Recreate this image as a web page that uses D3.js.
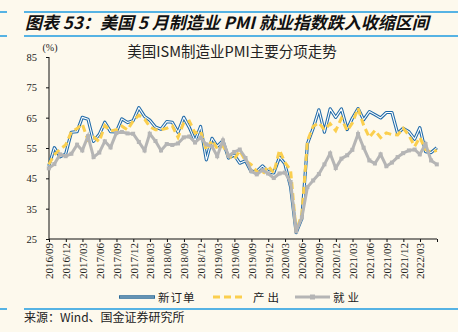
<!DOCTYPE html>
<html>
<head>
<meta charset="utf-8">
<script src="https://cdn.jsdelivr.net/npm/d3@7"></script>
<style>
  html, body { margin: 0; padding: 0; background: #fdf9ed; }
  svg { display: block; }
  .cn { font-family: "Noto Sans CJK SC", sans-serif; }
  .num { font-family: "Liberation Serif", "Times New Roman", serif; }
</style>
</head>
<body>
<div class="chart"></div>
<script>
// ISM manufacturing PMI sub-indices, monthly from 2016/08 to 2022/05
var startMonth = [2016, 8];
var newOrders = [49.1, 55.1, 52.1, 53.0, 60.2,
  60.4, 65.1, 64.5, 57.2, 59.5, 63.5, 60.4, 60.3, 64.6, 63.4, 64.0, 68.3,
  65.4, 64.2, 61.9, 61.2, 63.7, 63.5, 60.2, 65.1, 61.8, 57.4, 62.1, 51.1,
  58.2, 55.5, 57.4, 51.7, 52.7, 50.0, 50.8, 47.2, 47.3, 49.1, 47.2, 46.8,
  52.0, 49.8, 42.2, 27.1, 31.8, 56.4, 61.5, 67.6, 60.2, 67.9, 65.1, 67.9,
  61.1, 64.8, 68.0, 64.3, 67.0, 66.0, 64.9, 66.7, 66.7, 59.8, 61.5, 60.4,
  57.9, 61.7, 53.8, 53.5, 55.1];
var production = [49.6, 52.8, 54.6, 56.0, 60.3,
  61.4, 62.9, 57.6, 58.6, 57.1, 62.4, 60.6, 61.0, 62.2, 61.0, 63.9, 65.8,
  64.5, 62.0, 61.0, 61.0, 61.5, 62.3, 58.5, 63.3, 63.9, 59.9, 60.6, 54.3,
  57.5, 54.8, 55.8, 52.3, 51.3, 54.1, 50.8, 49.5, 47.3, 46.2, 49.1, 46.8,
  54.3, 50.3, 47.7, 27.5, 33.2, 57.3, 62.1, 63.3, 61.0, 63.0, 60.7, 64.8,
  60.7, 63.2, 68.1, 62.5, 58.5, 60.8, 58.4, 60.0, 59.4, 59.3, 61.5, 59.2,
  55.5, 58.5, 54.5, 53.6, 54.2];
var employment = [48.3, 49.7, 52.9, 52.3, 53.1,
  56.1, 54.2, 58.9, 52.0, 53.5, 57.2, 55.2, 59.9, 60.3, 59.8, 59.7, 57.0,
  54.2, 59.7, 57.3, 54.2, 56.3, 56.0, 56.5, 58.5, 58.8, 56.8, 58.4, 56.2,
  55.5, 52.3, 57.5, 52.4, 53.7, 54.5, 51.7, 47.4, 46.3, 47.7, 46.6, 45.1,
  46.6, 46.9, 43.8, 27.5, 32.1, 42.1, 44.3, 46.4, 49.6, 53.2, 48.4, 51.5,
  52.6, 54.4, 59.6, 55.1, 50.9, 49.9, 52.9, 49.0, 50.2, 52.0, 53.3, 54.2,
  54.5, 52.9, 56.3, 50.9, 49.6];
var tickLabels = ["2016/09", "2016/12", "2017/03", "2017/06", "2017/09", "2017/12",
  "2018/03", "2018/06", "2018/09", "2018/12", "2019/03", "2019/06", "2019/09",
  "2019/12", "2020/03", "2020/06", "2020/09", "2020/12", "2021/03", "2021/06",
  "2021/09", "2021/12", "2022/03", ""];
var yTicks = [25, 35, 45, 55, 65, 75, 85];

var width = 458, height = 332;
var plot = {left: 49, right: 437, top: 57, bottom: 239};
var blueRule = "#1e9be0", bg = "#fdf9ed";

var parseMonth = d3.timeParse("%Y/%m");
// points sit at month end, ticks at month start
var dates = newOrders.map(function(d, i) {
  return new Date(startMonth[0], startMonth[1] + i, 0);
});
var tickDates = tickLabels.map(function(d, i) {
  return d ? parseMonth(d) : d3.timeMonth.offset(parseMonth(tickLabels[i - 1]), 3);
});

var x = d3.scaleTime()
  .domain([tickDates[0], tickDates[tickDates.length - 1]])
  .range([plot.left, plot.right]);
var y = d3.scaleLinear().domain([25, 85]).range([plot.bottom, plot.top]);

var svg = d3.select(".chart").append("svg")
  .attr("width", width).attr("height", height);

svg.append("rect").attr("width", width).attr("height", height).attr("fill", bg);

// header and footer rules
[12, 36, 309].forEach(function(ry) {
  svg.append("line").attr("x1", 0).attr("x2", 7).attr("y1", ry).attr("y2", ry)
    .attr("stroke", blueRule).attr("stroke-width", 1.5);
  svg.append("line").attr("x1", 24).attr("x2", width).attr("y1", ry).attr("y2", ry)
    .attr("stroke", blueRule).attr("stroke-width", 1.5);
});

svg.append("text").attr("class", "cn")
  .attr("x", 25).attr("y", 29)
  .attr("font-size", 17).attr("font-weight", "bold").attr("font-style", "italic")
  .attr("fill", "#111")
  .text("图表 53：美国 5 月制造业 PMI 就业指数跌入收缩区间");

svg.append("text").attr("class", "cn")
  .attr("x", 232).attr("y", 57)
  .attr("text-anchor", "middle").attr("font-size", 14.5).attr("fill", "#222")
  .text("美国ISM制造业PMI主要分项走势");

svg.append("text").attr("class", "num")
  .attr("x", 50).attr("y", 51).attr("text-anchor", "middle")
  .attr("font-size", 10).attr("fill", "#222").text("(%)");

// axes
var yAxis = svg.append("g")
  .attr("transform", "translate(" + plot.left + ",0)")
  .call(d3.axisLeft(y).tickValues(yTicks).tickSize(3).tickPadding(9));
yAxis.selectAll("text").attr("class", "num").attr("font-size", 10.5).attr("fill", "#222");

var xAxis = svg.append("g")
  .attr("transform", "translate(0," + plot.bottom + ")")
  .call(d3.axisBottom(x).tickValues(tickDates).tickSize(3)
    .tickFormat(function(d, i) { return tickLabels[i]; }));
xAxis.selectAll("text").attr("class", "num").attr("font-size", 11).attr("fill", "#222")
  .attr("transform", "rotate(-90)").attr("x", -4).attr("y", 0).attr("dy", "0.35em")
  .style("text-anchor", "end");

svg.selectAll(".domain, .tick line").attr("stroke", "#111").attr("stroke-width", 1);
svg.selectAll(".domain").attr("d", function() {
  return d3.select(this.parentNode).attr("transform").indexOf("(0,") > -1
    ? "M" + plot.left + ",0H" + plot.right
    : "M0," + plot.top + "V" + plot.bottom;
});

var line = d3.line()
  .x(function(d) { return x(d.date); })
  .y(function(d) { return y(d.value); });
function series(values) {
  return values.map(function(v, i) { return {date: dates[i], value: v}; });
}

var g = svg.append("g").attr("class", "lines");

// new orders: blue double stroke
g.append("path").attr("d", line(series(newOrders)))
  .attr("fill", "none").attr("stroke", "#1f6aa8").attr("stroke-width", 3.2)
  .attr("stroke-linejoin", "round");
g.append("path").attr("d", line(series(newOrders)))
  .attr("fill", "none").attr("stroke", "#ffffff").attr("stroke-width", 1.1)
  .attr("stroke-linejoin", "round");

// production: yellow dashes
g.append("path").attr("d", line(series(production)))
  .attr("fill", "none").attr("stroke", "#fbcf4e").attr("stroke-width", 3)
  .attr("stroke-dasharray", "7,4");

// employment: grey with square markers
g.append("path").attr("d", line(series(employment)))
  .attr("fill", "none").attr("stroke", "#b5b5b5").attr("stroke-width", 3);
g.selectAll(".emp").data(series(employment)).enter().append("rect")
  .attr("x", function(d) { return x(d.date) - 2; })
  .attr("y", function(d) { return y(d.value) - 2; })
  .attr("width", 4).attr("height", 4).attr("fill", "#b5b5b5");

// legend
var ly = 297;
var legend = svg.append("g");
legend.append("line").attr("x1", 119).attr("x2", 155).attr("y1", ly).attr("y2", ly)
  .attr("stroke", "#2a6a98").attr("stroke-width", 3.4);
legend.append("line").attr("x1", 120).attr("x2", 154).attr("y1", ly).attr("y2", ly)
  .attr("stroke", "#9fbbd0").attr("stroke-width", 1.2);
legend.append("line").attr("x1", 213).attr("x2", 245).attr("y1", ly).attr("y2", ly)
  .attr("stroke", "#fbcf4e").attr("stroke-width", 3).attr("stroke-dasharray", "7,4");
legend.append("line").attr("x1", 295).attr("x2", 330).attr("y1", ly).attr("y2", ly)
  .attr("stroke", "#b5b5b5").attr("stroke-width", 3);
legend.append("rect").attr("x", 310).attr("y", ly - 2.5).attr("width", 5).attr("height", 5)
  .attr("fill", "#b5b5b5");
[["新订单", 158, 1], ["产出", 253, 3], ["就业", 333, 3]].forEach(function(t) {
  legend.append("text").attr("class", "cn")
    .attr("x", t[1]).attr("y", ly + 4.5).attr("font-size", 11.5)
    .attr("letter-spacing", t[2]).attr("fill", "#222").text(t[0]);
});

svg.append("text").attr("class", "cn")
  .attr("x", 24).attr("y", 322).attr("font-size", 12).attr("fill", "#222")
  .text("来源：Wind、国金证券研究所");
</script>
</body>
</html>
